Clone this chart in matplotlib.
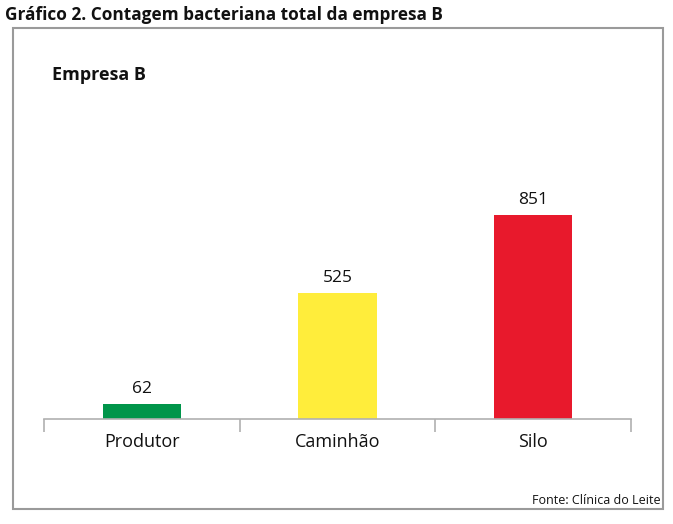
import matplotlib
matplotlib.use("Agg")
import matplotlib.pyplot as plt
from matplotlib.patches import Rectangle

categories = ["Produtor", "Caminhão", "Silo"]
values = [62, 525, 851]
colors = ["#00954A", "#FFED3B", "#E8192C"]

title = "Gráfico 2. Contagem bacteriana total da empresa B"
subtitle = "Empresa B"
source = "Fonte: Clínica do Leite"

W, H = 673, 524
fig = plt.figure(figsize=(W / 100, H / 100), dpi=100)
FONT = "Open Sans"

# outer frame
fig.patches.append(Rectangle((13 / W, 1 - 509 / H), (663 - 13) / W, (509 - 28) / H,
                             transform=fig.transFigure, fill=False,
                             edgecolor="#9a9a9a", linewidth=1.5))

ax = fig.add_axes([44 / W, 1 - 419 / H, (631 - 44) / W, (419 - 179) / H])
x = list(range(len(categories)))
bars = ax.bar(x, values, width=0.40, color=colors)
ax.set_xlim(-0.5, len(categories) - 0.5)
ax.set_ylim(0, 1000)
for xi, v in zip(x, values):
    ax.annotate(str(v), (xi, v), xytext=(0, 5), textcoords="offset points",
                ha="center", va="bottom", fontsize=12.5, family=FONT, color="#111111")

for s in ["top", "right", "left"]:
    ax.spines[s].set_visible(False)
ax.spines["bottom"].set_color("#b0b0b0")
ax.spines["bottom"].set_linewidth(1.2)
ax.set_yticks([])
ax.set_xticks([-0.5, 0.5, 1.5, 2.5], minor=False)
ax.set_xticklabels([])
ax.tick_params(axis="x", which="major", length=9, color="#b0b0b0", width=1.2, direction="out")
ax.set_xticks(x, minor=True)
ax.set_xticklabels(categories, minor=True, fontsize=13, family=FONT, color="#111111")
ax.tick_params(axis="x", which="minor", length=0, pad=10)

fig.text(5 / W, 1 - 15 / H, title, fontsize=12.4, fontweight="bold", family=FONT,
         ha="left", va="center", color="#111111")
fig.text(52 / W, 1 - 75 / H, subtitle, fontsize=13, fontweight="bold", family=FONT,
         ha="left", va="center", color="#111111")
fig.text(661 / W, 1 - 500 / H, source, fontsize=9, family=FONT,
         ha="right", va="center", color="#111111")

fig.savefig("out.png", dpi=100, facecolor="white")
